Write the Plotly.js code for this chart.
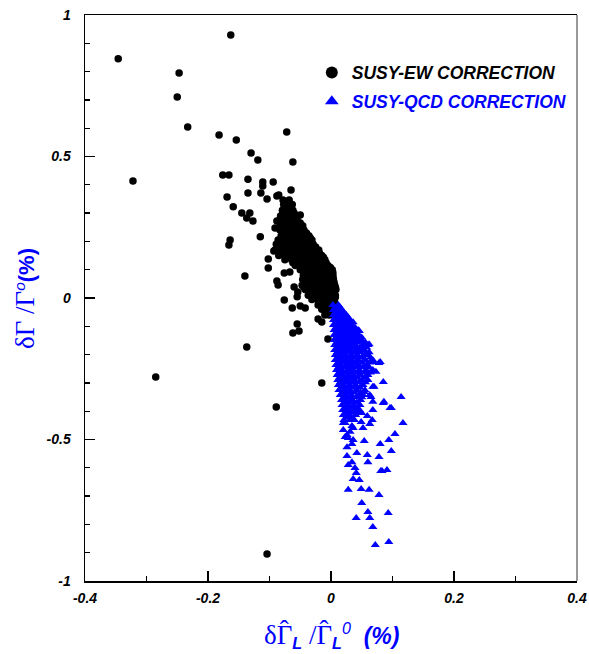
<!DOCTYPE html>
<html>
<head>
<meta charset="utf-8">
<script src="https://cdn.plot.ly/plotly-3.0.1.min.js"></script>
<style>html,body{margin:0;padding:0;background:#fff;}</style>
</head>
<body>
<div id="chart" style="width:589px;height:654px;"></div>
<script>
// SUSY-EW correction points [dGammaHat_L/GammaHat_L^0 (%), dGamma/Gamma^0 (%)]
const ewOutliers = [
[-0.346,0.845],[-0.163,0.929],[-0.247,0.795],[-0.250,0.710],[-0.233,0.604],[-0.322,0.413],
[-0.182,0.576],[-0.154,0.558],[-0.130,0.512],[-0.119,0.488],[-0.072,0.587],[-0.062,0.481],
[-0.176,0.435],[-0.166,0.435],[-0.135,0.420],[-0.111,0.410],[-0.111,0.396],[-0.094,0.410],
[-0.135,0.371],[-0.114,0.371],[-0.104,0.350],[-0.088,0.360],[-0.085,0.364],[-0.065,0.382],
[-0.169,0.357],[-0.159,0.322],[-0.145,0.300],[-0.132,0.300],[-0.137,0.283],[-0.127,0.272],
[-0.088,0.272],[-0.050,0.293],[-0.164,0.205],[-0.166,0.187],[-0.115,0.216],[-0.102,0.138],
[-0.102,0.106],[-0.093,0.166],[-0.140,0.078],[-0.088,0.060],[-0.086,0.046],[-0.076,-0.007],
[-0.063,-0.035],[-0.060,0.039],[-0.055,0.004],[-0.050,-0.028],[-0.042,-0.035],[-0.055,-0.092],
[-0.052,-0.117],[-0.062,-0.124],[-0.137,-0.173],[-0.021,-0.074],[-0.015,-0.085],[-0.005,-0.145],
[-0.285,-0.279],[-0.089,-0.385],[-0.104,-0.905],[-0.015,-0.300],[-0.054,0.021],[-0.076,0.088],
[-0.067,0.092],[-0.091,0.247],[-0.044,0.085]
];
const ewCore = [
[-0.078,0.346],[-0.068,0.346],
[-0.077,0.330],[-0.069,0.330],[-0.063,0.330],
[-0.079,0.310],[-0.070,0.310],[-0.062,0.310],
[-0.082,0.290],[-0.073,0.290],[-0.064,0.290],[-0.056,0.290],
[-0.083,0.275],[-0.074,0.275],[-0.066,0.275],[-0.055,0.275],
[-0.082,0.255],[-0.073,0.255],[-0.063,0.255],[-0.053,0.255],[-0.046,0.255],
[-0.083,0.240],[-0.074,0.240],[-0.065,0.240],[-0.055,0.240],[-0.044,0.240],
[-0.081,0.220],[-0.072,0.220],[-0.062,0.220],[-0.052,0.220],[-0.043,0.220],[-0.036,0.220],
[-0.086,0.205],[-0.076,0.205],[-0.066,0.205],[-0.056,0.205],[-0.046,0.205],[-0.037,0.205],[-0.031,0.205],
[-0.089,0.190],[-0.078,0.190],[-0.068,0.190],[-0.058,0.190],[-0.048,0.190],[-0.039,0.190],[-0.029,0.190],
[-0.091,0.170],[-0.081,0.170],[-0.070,0.170],[-0.060,0.170],[-0.050,0.170],[-0.040,0.170],[-0.030,0.170],[-0.020,0.170],
[-0.085,0.150],[-0.075,0.150],[-0.064,0.150],[-0.054,0.150],[-0.044,0.150],[-0.034,0.150],[-0.024,0.150],[-0.015,0.150],
[-0.075,0.135],[-0.064,0.135],[-0.055,0.135],[-0.045,0.135],[-0.035,0.135],[-0.025,0.135],[-0.016,0.135],[-0.010,0.135],
[-0.058,0.115],[-0.049,0.115],[-0.039,0.115],[-0.030,0.115],[-0.021,0.115],[-0.012,0.115],[-0.005,0.115],
[-0.050,0.100],[-0.041,0.100],[-0.032,0.100],[-0.022,0.100],[-0.013,0.100],[-0.004,0.100],[0.002,0.100],
[-0.045,0.080],[-0.036,0.080],[-0.027,0.080],[-0.018,0.080],[-0.009,0.080],[0.000,0.080],[0.003,0.080],
[-0.046,0.065],[-0.037,0.065],[-0.028,0.065],[-0.019,0.065],[-0.010,0.065],[-0.001,0.065],[0.004,0.065],
[-0.047,0.045],[-0.038,0.045],[-0.029,0.045],[-0.020,0.045],[-0.011,0.045],[-0.002,0.045],[0.006,0.045],
[-0.042,0.030],[-0.033,0.030],[-0.024,0.030],[-0.015,0.030],[-0.006,0.030],[0.003,0.030],[0.008,0.030],
[-0.037,0.010],[-0.028,0.010],[-0.019,0.010],[-0.010,0.010],[-0.001,0.010],[0.007,0.010],
[-0.031,-0.005],[-0.022,-0.005],[-0.013,-0.005],[-0.004,-0.005],[0.005,-0.005],
[-0.021,-0.025],[-0.012,-0.025],[-0.003,-0.025],[0.004,-0.025],
[-0.015,-0.040],[-0.007,-0.040],[0.002,-0.040],
[-0.010,-0.060],[-0.003,-0.060]
];
const ewCoreFill = [
[-0.073,0.338],
[-0.074,0.320],[-0.066,0.320],
[-0.078,0.300],[-0.068,0.300],[-0.060,0.300],
[-0.079,0.283],[-0.070,0.283],[-0.060,0.283],
[-0.078,0.265],[-0.069,0.265],[-0.059,0.265],[-0.050,0.265],
[-0.079,0.248],[-0.069,0.248],[-0.059,0.248],[-0.049,0.248],
[-0.078,0.230],[-0.068,0.230],[-0.058,0.230],[-0.048,0.230],[-0.040,0.230],
[-0.081,0.213],[-0.071,0.213],[-0.061,0.213],[-0.051,0.213],[-0.041,0.213],[-0.034,0.213],
[-0.083,0.198],[-0.072,0.198],[-0.062,0.198],[-0.052,0.198],[-0.042,0.198],[-0.034,0.198],
[-0.085,0.180],[-0.074,0.180],[-0.064,0.180],[-0.054,0.180],[-0.044,0.180],[-0.034,0.180],[-0.025,0.180],
[-0.080,0.160],[-0.070,0.160],[-0.059,0.160],[-0.049,0.160],[-0.039,0.160],[-0.029,0.160],[-0.019,0.160],
[-0.070,0.143],[-0.060,0.143],[-0.050,0.143],[-0.040,0.143],[-0.030,0.143],[-0.020,0.143],[-0.012,0.143],
[-0.062,0.125],[-0.053,0.125],[-0.043,0.125],[-0.034,0.125],[-0.025,0.125],[-0.016,0.125],[-0.008,0.125],
[-0.046,0.108],[-0.036,0.108],[-0.027,0.108],[-0.018,0.108],[-0.008,0.108],[-0.001,0.108],
[-0.041,0.090],[-0.031,0.090],[-0.022,0.090],[-0.013,0.090],[-0.004,0.090],[0.003,0.090],
[-0.041,0.073],[-0.032,0.073],[-0.023,0.073],[-0.014,0.073],[-0.005,0.073],[0.003,0.073],
[-0.042,0.055],[-0.033,0.055],[-0.024,0.055],[-0.015,0.055],[-0.006,0.055],[0.005,0.055],
[-0.044,0.038],[-0.035,0.038],[-0.026,0.038],[-0.017,0.038],[-0.008,0.038],[0.001,0.038],[0.007,0.038],
[-0.033,0.020],[-0.024,0.020],[-0.014,0.020],[-0.005,0.020],[0.004,0.020],
[-0.026,0.003],[-0.017,0.003],[-0.008,0.003],[0.001,0.003],[0.007,0.003],
[-0.017,-0.015],[-0.008,-0.015],[0.001,-0.015],[0.006,-0.015],
[-0.011,-0.032],[-0.003,-0.032],[0.004,-0.032],
[-0.006,-0.050],[0.001,-0.050]
];
// SUSY-QCD correction points
const qcdCore = [
[0.003,-0.025],[0.012,-0.025],
[0.004,-0.042],[0.011,-0.042],[0.018,-0.042],
[0.004,-0.060],[0.011,-0.060],[0.018,-0.060],[0.025,-0.060],
[0.004,-0.078],[0.011,-0.078],[0.018,-0.078],[0.026,-0.078],[0.031,-0.078],
[0.004,-0.095],[0.012,-0.095],[0.019,-0.095],[0.027,-0.095],[0.034,-0.095],
[0.005,-0.113],[0.012,-0.113],[0.020,-0.113],[0.028,-0.113],[0.036,-0.113],
[0.005,-0.131],[0.013,-0.131],[0.021,-0.131],[0.029,-0.131],[0.037,-0.131],[0.045,-0.131],
[0.005,-0.148],[0.013,-0.148],[0.021,-0.148],[0.030,-0.148],[0.038,-0.148],[0.047,-0.148],
[0.006,-0.166],[0.014,-0.166],[0.022,-0.166],[0.031,-0.166],[0.040,-0.166],[0.052,-0.166],
[0.006,-0.184],[0.014,-0.184],[0.023,-0.184],[0.032,-0.184],[0.041,-0.184],[0.054,-0.184],
[0.007,-0.201],[0.015,-0.201],[0.024,-0.201],[0.033,-0.201],[0.043,-0.201],[0.055,-0.201],[0.060,-0.201],
[0.007,-0.219],[0.016,-0.219],[0.025,-0.219],[0.034,-0.219],[0.044,-0.219],[0.056,-0.219],
[0.008,-0.237],[0.016,-0.237],[0.026,-0.237],[0.035,-0.237],[0.045,-0.237],[0.058,-0.237],
[0.009,-0.254],[0.017,-0.254],[0.027,-0.254],[0.036,-0.254],[0.046,-0.254],[0.057,-0.254],[0.068,-0.254],
[0.010,-0.272],[0.018,-0.272],[0.028,-0.272],[0.037,-0.272],[0.048,-0.272],[0.060,-0.272],
[0.011,-0.290],[0.019,-0.290],[0.028,-0.290],[0.038,-0.290],[0.050,-0.290],[0.060,-0.290],
[0.012,-0.307],[0.020,-0.307],[0.030,-0.307],[0.040,-0.307],[0.052,-0.307],
[0.013,-0.325],[0.022,-0.325],[0.031,-0.325],[0.042,-0.325],[0.055,-0.325],
[0.015,-0.343],[0.024,-0.343],[0.033,-0.343],[0.045,-0.343],[0.052,-0.343],
[0.017,-0.360],[0.026,-0.360],[0.035,-0.360],[0.048,-0.360],
[0.018,-0.378],[0.027,-0.378],[0.037,-0.378],[0.047,-0.378],
[0.019,-0.396],[0.028,-0.396],[0.039,-0.396],[0.046,-0.396],
[0.020,-0.413],[0.029,-0.413],[0.040,-0.413],
[0.021,-0.431],[0.031,-0.431],[0.038,-0.431]
];
const qcdCoreFill = [
[0.007,-0.034],[0.015,-0.034],
[0.007,-0.051],[0.014,-0.051],[0.021,-0.051],
[0.007,-0.069],[0.014,-0.069],[0.022,-0.069],[0.028,-0.069],
[0.008,-0.086],[0.015,-0.086],[0.022,-0.086],[0.030,-0.086],[0.036,-0.086],
[0.008,-0.104],[0.016,-0.104],[0.024,-0.104],[0.031,-0.104],[0.039,-0.104],
[0.009,-0.122],[0.017,-0.122],[0.025,-0.122],[0.033,-0.122],[0.041,-0.122],
[0.009,-0.140],[0.017,-0.140],[0.025,-0.140],[0.034,-0.140],[0.042,-0.140],[0.050,-0.140],
[0.009,-0.157],[0.017,-0.157],[0.026,-0.157],[0.034,-0.157],[0.043,-0.157],[0.056,-0.157],
[0.010,-0.175],[0.018,-0.175],[0.027,-0.175],[0.036,-0.175],[0.047,-0.175],[0.058,-0.175],
[0.010,-0.192],[0.019,-0.192],[0.028,-0.192],[0.038,-0.192],[0.048,-0.192],[0.062,-0.192],
[0.011,-0.210],[0.020,-0.210],[0.030,-0.210],[0.039,-0.210],[0.050,-0.210],[0.064,-0.210],
[0.012,-0.228],[0.021,-0.228],[0.030,-0.228],[0.040,-0.228],[0.051,-0.228],[0.063,-0.228],
[0.012,-0.245],[0.022,-0.245],[0.031,-0.245],[0.041,-0.245],[0.052,-0.245],[0.062,-0.245],
[0.013,-0.263],[0.023,-0.263],[0.032,-0.263],[0.043,-0.263],[0.054,-0.263],[0.064,-0.263],
[0.014,-0.281],[0.023,-0.281],[0.033,-0.281],[0.043,-0.281],[0.055,-0.281],
[0.015,-0.298],[0.024,-0.298],[0.034,-0.298],[0.045,-0.298],[0.056,-0.298],
[0.017,-0.316],[0.026,-0.316],[0.036,-0.316],[0.047,-0.316],
[0.019,-0.334],[0.028,-0.334],[0.038,-0.334],[0.048,-0.334],
[0.021,-0.351],[0.030,-0.351],[0.041,-0.351],[0.050,-0.351],
[0.022,-0.369],[0.031,-0.369],[0.042,-0.369],
[0.023,-0.387],[0.033,-0.387],[0.043,-0.387],
[0.024,-0.404],[0.034,-0.404],[0.044,-0.404],
[0.025,-0.422],[0.034,-0.422]
];
const qcdOutliers = [
[0.085,-0.297],[0.114,-0.350],[0.096,-0.389],[0.117,-0.442],[0.104,-0.481],[0.094,-0.502],
[0.098,-0.541],[0.080,-0.516],[0.078,-0.562],[0.054,-0.505],[0.059,-0.555],[0.042,-0.548],
[0.036,-0.502],[0.026,-0.527],[0.028,-0.495],[0.034,-0.580],[0.028,-0.590],[0.060,-0.580],
[0.068,-0.367],[0.068,-0.396],[0.086,-0.367],[0.063,-0.343],[0.067,-0.431],[0.052,-0.459],
[0.036,-0.459],[0.023,-0.442],[0.083,-0.611],[0.091,-0.608],[0.039,-0.601],[0.041,-0.618],
[0.036,-0.640],[0.046,-0.643],[0.028,-0.678],[0.049,-0.675],[0.062,-0.678],[0.078,-0.696],
[0.050,-0.724],[0.060,-0.756],[0.063,-0.777],[0.093,-0.760],[0.041,-0.777],[0.068,-0.809],
[0.094,-0.862],[0.072,-0.873],[0.078,-0.230],[0.068,-0.226],[0.073,-0.261],[0.062,-0.163],
[0.044,-0.113],[0.034,-0.516],[0.023,-0.491],[0.068,-0.314],[0.065,-0.350],[0.054,-0.332],
[0.050,-0.406],[0.059,-0.417],[0.063,-0.445],[0.049,-0.438],[0.020,-0.442],[0.026,-0.484],
[0.034,-0.452],[0.098,-0.389],[0.081,-0.611],[0.080,-0.226],[0.070,-0.314],[0.085,-0.371],
[0.046,-0.117],[0.026,-0.558],[0.020,-0.466],[0.031,-0.473],[0.060,-0.166],[0.052,-0.155],
[0.068,-0.219],[0.050,-0.177],[0.055,-0.201]
];
const xTickVals = [-0.4,-0.2,0,0.2,0.4];
const xTickText = ['-0.4','-0.2','0','0.2','0.4'];
const xMinorVals = [-0.3,-0.1,0.1,0.3];
const yTickVals = [-1,-0.5,0,0.5,1];
const yTickText = ['-1','-0.5','0','0.5','1'];
const yMinorVals = [-0.9,-0.8,-0.7,-0.6,-0.4,-0.3,-0.2,-0.1,0.1,0.2,0.3,0.4,0.6,0.7,0.8,0.9];
const ewName = 'SUSY-EW CORRECTION';
const qcdName = 'SUSY-QCD CORRECTION';

const ewAll = ewOutliers.concat(ewCore, ewCoreFill);
const qcdAll = qcdCore.concat(qcdCoreFill, qcdOutliers);

const tickFont = {family:'Liberation Sans, Arial, sans-serif', size:14, weight:'bold', style:'italic', color:'#000'};

const traces = [
  {type:'scatter', mode:'markers', name:ewName,
   x: ewAll.map(p=>p[0]), y: ewAll.map(p=>p[1]),
   marker:{symbol:'circle', size:7.5, color:'#000'}, legendgroup:'a'},
  {type:'scatter', mode:'markers', name:'<span style="color:#0000ff">'+qcdName+'</span>',
   x: qcdAll.map(p=>p[0]), y: qcdAll.map(p=>p[1]),
   marker:{symbol:'triangle-up', size:8, color:'#0000ff'}, legendgroup:'b'}
];

// Gamma with a hat drawn over it (hat overlapped via negative letter spacing)
const gHat = '<span style="font-family:Liberation Serif;font-size:27px;letter-spacing:-12.5px">Γ</span>' +
             '<span style="font-family:Liberation Serif;font-size:27px;letter-spacing:3.5px;baseline-shift:5px">ˆ</span>';

const layout = {
  width:589, height:654,
  margin:{l:85, r:12, t:15, b:73},
  paper_bgcolor:'#fff', plot_bgcolor:'#fff',
  showlegend:true,
  legend:{x:0.461, y:0.93, xanchor:'left', yanchor:'top', bgcolor:'rgba(0,0,0,0)',
    font:{family:'Liberation Sans, Arial, sans-serif', size:17.5, weight:'bold', style:'italic', color:'#000'},
    itemsizing:'constant', tracegroupgap:3},
  xaxis:{range:[-0.4,0.4], tickmode:'array', tickvals:xTickVals, ticktext:xTickText,
    ticks:'inside', ticklen:10, tickwidth:1.3, tickcolor:'#000',
    showline:true, linecolor:'#000', linewidth:1.5, mirror:true,
    showgrid:false, zeroline:false, tickfont:tickFont, ticklabelstandoff:4,
    minor:{tickmode:'array', tickvals:xMinorVals, ticks:'inside', ticklen:5, tickwidth:1.3, tickcolor:'#000', showgrid:false}},
  yaxis:{range:[-1,1], tickmode:'array', tickvals:yTickVals, ticktext:yTickText,
    ticks:'inside', ticklen:10, tickwidth:1.3, tickcolor:'#000',
    showline:true, linecolor:'#000', linewidth:1.5, mirror:false,
    showgrid:false, zeroline:false, tickfont:tickFont, ticklabelstandoff:10,
    minor:{tickmode:'array', tickvals:yMinorVals, ticks:'inside', ticklen:5, tickwidth:1.3, tickcolor:'#000', showgrid:false}},
  shapes:[{type:'line', xref:'paper', yref:'paper', x0:1, x1:1, y0:0, y1:1, line:{color:'#777', width:1.5}}],
  annotations:[
    {xref:'paper', yref:'paper', x:0.5, y:-0.092, xanchor:'center', yanchor:'middle', showarrow:false,
     font:{family:'Liberation Sans, Arial, sans-serif', size:23, color:'#0000ff'},
     text:'<span style="font-family:Liberation Serif;font-size:27px">δ</span>' + gHat +
          '<sub><b><i>L</i></b></sub><span style="font-family:Liberation Serif;font-size:27px"> /</span>' + gHat +
          '<sub><b><i>L</i></b></sub><sup><i>0</i></sup>  <b><i>(%)</i></b>'},
    {xref:'paper', yref:'paper', x:-0.122, y:0.5, xanchor:'center', yanchor:'middle', textangle:-90, showarrow:false,
     font:{family:'Liberation Sans, Arial, sans-serif', size:22, color:'#0000ff'},
     text:'<span style="font-family:Liberation Serif;font-size:27px">δΓ /Γ</span><sup><i>o</i></sup><b>(%)</b>'}
  ]
};

Plotly.newPlot('chart', traces, layout, {displayModeBar:false, staticPlot:true});
</script>
</body>
</html>
